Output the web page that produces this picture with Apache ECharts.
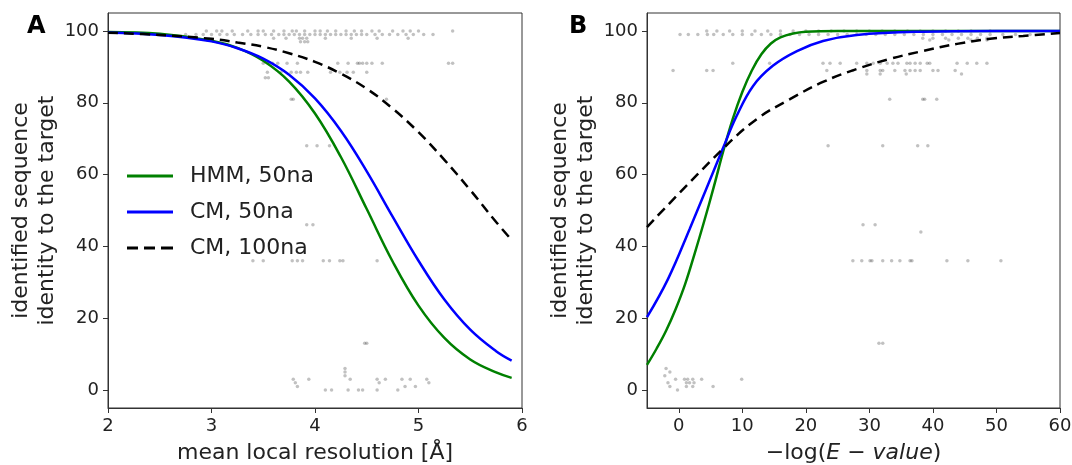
<!DOCTYPE html>
<html>
<head>
<meta charset="utf-8">
<script src="https://cdn.jsdelivr.net/npm/echarts@6/dist/echarts.min.js"></script>
<style>
  html, body { margin: 0; padding: 0; background: #fff; }
  #chart { width: 1072px; height: 465px; }
</style>
</head>
<body>
<div id="chart"></div>
<script>
// ---- panel A: identity vs mean local resolution ----
const resA = [2, 2.5, 3, 3.25, 3.5, 3.75, 4, 4.25, 4.5, 4.75, 5, 5.25, 5.5, 5.75, 5.9]
const hmmA = [99.7, 99.2, 97.3, 95.3, 91.7, 85.9, 77.0, 64.9, 50.4, 35.8, 23.5, 14.5, 8.5, 4.9, 3.4]
const cm50A = [99.6, 98.9, 97.1, 95.2, 92.3, 87.8, 81.2, 72.2, 60.9, 48.3, 36.0, 25.2, 16.8, 10.8, 8.2]
const cm100A = [99.5, 98.9, 97.8, 96.8, 95.6, 93.8, 91.4, 88.1, 83.9, 78.4, 71.8, 64.1, 55.7, 46.8, 41.8]

// scatter rows for panel A: [identity, x values]
const dotsA = [
  [100, [2.95, 3.05, 3.1, 3.2, 3.35, 3.45, 3.5, 3.6, 3.7, 3.78, 3.82, 3.9, 4.0, 4.05, 4.12, 4.2, 4.3, 4.38, 4.45, 4.55, 4.62, 4.75, 4.85, 4.92, 5.0, 5.33]],
  [99, [2.75, 2.85, 2.92, 3.0, 3.08, 3.15, 3.22, 3.3, 3.38, 3.45, 3.52, 3.58, 3.65, 3.7, 3.75, 3.8, 3.85, 3.9, 3.95, 4.0, 4.05, 4.1, 4.15, 4.2, 4.25, 4.3, 4.35, 4.4, 4.45, 4.5, 4.58, 4.65, 4.72, 4.8, 4.88, 4.95, 5.05, 5.14]],
  [98, [3.6, 3.72, 3.85, 3.88, 3.92, 4.1, 4.35, 4.6, 4.9]],
  [97, [3.86, 3.9, 3.93]],
  [91, [3.5, 3.55, 3.59, 3.64, 3.73, 3.83, 4.22, 4.32, 4.41, 4.43, 4.46, 4.5, 4.55, 4.65, 5.29, 5.33]],
  [88.5, [3.54, 3.67, 3.77, 3.82, 3.86, 3.93, 4.15, 4.24, 4.31, 4.37, 4.5]],
  [87, [3.52, 3.55]],
  [81, [3.77, 3.79, 4.69]],
  [68, [3.92, 4.02, 4.14]],
  [46, [3.92, 3.98]],
  [36, [3.4, 3.5, 3.78, 3.83, 3.88, 4.08, 4.14, 4.24, 4.27, 4.6]],
  [13, [4.48, 4.5]],
  [6, [4.29]],
  [5, [4.29]],
  [4, [4.29]],
  [3, [3.79, 3.94, 4.34, 4.6, 4.68, 4.84, 4.92, 5.08]],
  [2, [3.81, 4.62, 5.1]],
  [1, [3.83, 4.87, 4.97]],
  [0, [4.1, 4.16, 4.32, 4.42, 4.46, 4.6, 4.8]]
]

// ---- panel B: identity vs -log(E-value) ----
const hmmB = [[-5, 7.0], [-3.5, 11.5], [-2, 16.5], [-0.5, 22.5], [1, 29.5], [2.5, 38], [4, 47], [5.5, 56.5], [7, 66.5], [8.5, 75.5], [10, 83], [11.5, 89], [13, 93.5], [14.5, 96.5], [16, 98.2], [18, 99.3], [20, 99.8], [25, 100], [60, 100]]
const cm50B = [[-5, 20.3], [-1.7, 30.9], [1.7, 44.8], [6.9, 67.1], [9.1, 76.3], [11.7, 84.7], [14.8, 90.3], [18.6, 94.4], [22.7, 97.2], [28, 98.9], [38.4, 99.8], [50, 100], [60, 100]]
const cm100B = [[-5, 45.4], [6.9, 67.1], [12.3, 75.5], [17.5, 81], [22.7, 85.8], [28, 89.4], [33.2, 92.2], [38.4, 94.4], [43.8, 96.4], [49, 97.8], [54.2, 98.6], [60, 99.4]]

const dotsB = [
  [100, [4.4, 6, 8, 10, 12, 14, 16, 18, 20, 22, 24, 26, 28, 30, 32, 34, 36, 38, 40, 42, 44, 46, 49]],
  [99, [0.2, 1.5, 3, 4.5, 5.5, 7, 8.5, 10, 11.5, 13, 14.5, 16, 17.5, 19, 20.5, 22, 23.5, 25, 26.5, 28, 29.5, 31, 32.5, 34, 35.5, 37, 38.5, 40, 41.5, 43, 44.5, 46, 47.5, 49, 51, 53, 55.3]],
  [98, [38.4, 40, 42, 44, 45.5, 47, 48.5]],
  [97.5, [39.5, 42.5, 46, 48.5]],
  [91, [8.5, 14.3, 22.7, 23.8, 25.4, 28, 29.6, 30.6, 31.7, 32.8, 33.7, 34.5, 35.9, 36.4, 37.2, 38, 39.1, 39.5, 43.8, 45.4, 46.9, 48.5]],
  [89, [-0.9, 4.4, 5.4, 23.3, 27.4, 29.6, 31.7, 32.1, 34, 35.6, 36.4, 37.2, 38, 40, 40.8, 43.5]],
  [88, [29.6, 31.7, 35.8, 44.5]],
  [81, [33.2, 38.4, 38.7, 40.6]],
  [68, [23.5, 32.1, 37.6, 39.2]],
  [46, [29, 30.9]],
  [44, [38.1]],
  [36, [27.4, 28.8, 30.1, 30.4, 32.1, 33.5, 34.8, 36.4, 36.7, 42.2, 45.5, 50.7]],
  [13, [31.5, 32.1]],
  [6, [-2]],
  [5, [-1.4]],
  [4, [-2.2]],
  [3, [-0.5, 0.9, 1.4, 2.2, 3.6, 9.9]],
  [2, [-1.7, 1.2, 1.7, 2.4]],
  [1, [-1.4, 1.2, 2.2, 5.4]],
  [0, [-0.2]]
]

const yTicks = [0, 20, 40, 60, 80, 100]
const xTicksB = [0, 10, 20, 30, 40, 50, 60]

function flatten(rows) {
  const out = []
  rows.forEach(r => r[1].forEach(x => out.push([x, r[0]])))
  return out
}

const tickFont = { fontFamily: 'DejaVu Sans', fontSize: 18, color: '#222' }
const nameFont = { fontFamily: 'DejaVu Sans', fontSize: 22, color: '#222', lineHeight: 26 }
const axisCommon = {
  axisLine: { show: true, onZero: false, lineStyle: { color: '#333', width: 1 } },
  axisTick: { show: true, length: 5, lineStyle: { color: '#333' } },
  splitLine: { show: false }
}

function yAxis(gridIndex) {
  return Object.assign({}, axisCommon, {
    type: 'value',
    gridIndex: gridIndex,
    min: -5,
    max: 105,
    name: 'identified sequence\nidentity to the target',
    nameLocation: 'middle',
    nameGap: 47,
    nameTextStyle: nameFont,
    axisTick: { show: true, length: 5, customValues: yTicks, lineStyle: { color: '#333' } },
    axisLabel: Object.assign({ customValues: yTicks, margin: 9 }, tickFont)
  })
}

const lineStyles = {
  hmm: { color: '#008000', width: 2.5 },
  cm50: { color: '#0000ff', width: 2.5 },
  cm100: { color: '#000', width: 2.5, type: [10, 6] }
}

const solidIcon = 'path://M0,0H46V3H0Z'
const dashIcon = 'path://M0,0H11V3H0Z M17,0H28V3H17Z M34,0H46V3H34Z'

const option = {
  animation: false,
  grid: [
    { left: 108, top: 13, width: 414, height: 395, show: true, borderColor: '#333', borderWidth: 1, outerBoundsMode: 'none' },
    { left: 647, top: 13, width: 413, height: 395, show: true, borderColor: '#333', borderWidth: 1, outerBoundsMode: 'none' }
  ],
  legend: {
    data: [
      { name: 'HMM, 50na', icon: solidIcon },
      { name: 'CM, 50na', icon: solidIcon },
      { name: 'CM, 100na', icon: dashIcon }
    ],
    orient: 'vertical',
    left: 127,
    top: 165,
    padding: 0,
    itemWidth: 46,
    itemHeight: 14,
    itemGap: 14,
    textStyle: { fontFamily: 'DejaVu Sans', fontSize: 22, color: '#222', padding: [0, 0, 0, 12] }
  },
  graphic: [
    { type: 'text', left: 27, top: 15, style: { text: 'A', font: 'bold 24px DejaVu Sans', fill: '#000' } },
    { type: 'text', left: 569, top: 15, style: { text: 'B', font: 'bold 24px DejaVu Sans', fill: '#000' } }
  ],
  xAxis: [
    Object.assign({}, axisCommon, {
      type: 'value', gridIndex: 0, min: 2, max: 6, interval: 1,
      name: 'mean local resolution [Å]',
      nameLocation: 'middle', nameGap: 32, nameTextStyle: nameFont,
      axisLabel: Object.assign({ margin: 9 }, tickFont)
    }),
    Object.assign({}, axisCommon, {
      type: 'value', gridIndex: 1, min: -5, max: 60,
      name: '−log({i|E − value})',
      nameLocation: 'middle', nameGap: 32,
      nameTextStyle: Object.assign({}, nameFont, { rich: { i: { fontFamily: 'DejaVu Sans', fontSize: 22, fontStyle: 'italic', color: '#222' } } }),
      axisTick: { show: true, length: 5, customValues: xTicksB, lineStyle: { color: '#333' } },
      axisLabel: Object.assign({ margin: 9, customValues: xTicksB }, tickFont)
    })
  ],
  yAxis: [yAxis(0), yAxis(1)],
  series: [
    { type: 'scatter', xAxisIndex: 0, yAxisIndex: 0, data: flatten(dotsA), symbolSize: 3.5, itemStyle: { color: 'rgba(0,0,0,0.3)' }, z: 1 },
    { type: 'scatter', xAxisIndex: 1, yAxisIndex: 1, data: flatten(dotsB), symbolSize: 3.5, itemStyle: { color: 'rgba(0,0,0,0.3)' }, z: 1 },
    { name: 'HMM, 50na', type: 'line', xAxisIndex: 0, yAxisIndex: 0, data: resA.map((x, i) => [x, hmmA[i]]), smooth: 0.4, symbol: 'none', lineStyle: lineStyles.hmm, itemStyle: { color: '#008000' }, z: 3 },
    { name: 'CM, 50na', type: 'line', xAxisIndex: 0, yAxisIndex: 0, data: resA.map((x, i) => [x, cm50A[i]]), smooth: 0.4, symbol: 'none', lineStyle: lineStyles.cm50, itemStyle: { color: '#0000ff' }, z: 3 },
    { name: 'CM, 100na', type: 'line', xAxisIndex: 0, yAxisIndex: 0, data: resA.map((x, i) => [x, cm100A[i]]), smooth: 0.4, symbol: 'none', lineStyle: lineStyles.cm100, itemStyle: { color: '#000' }, z: 3 },
    { type: 'line', xAxisIndex: 1, yAxisIndex: 1, data: hmmB, smooth: 0.4, symbol: 'none', lineStyle: lineStyles.hmm, z: 3 },
    { type: 'line', xAxisIndex: 1, yAxisIndex: 1, data: cm50B, smooth: 0.4, symbol: 'none', lineStyle: lineStyles.cm50, z: 3 },
    { type: 'line', xAxisIndex: 1, yAxisIndex: 1, data: cm100B, smooth: 0.4, symbol: 'none', lineStyle: lineStyles.cm100, z: 3 }
  ]
}

const chart = echarts.init(document.getElementById('chart'))
chart.setOption(option)
</script>
</body>
</html>
